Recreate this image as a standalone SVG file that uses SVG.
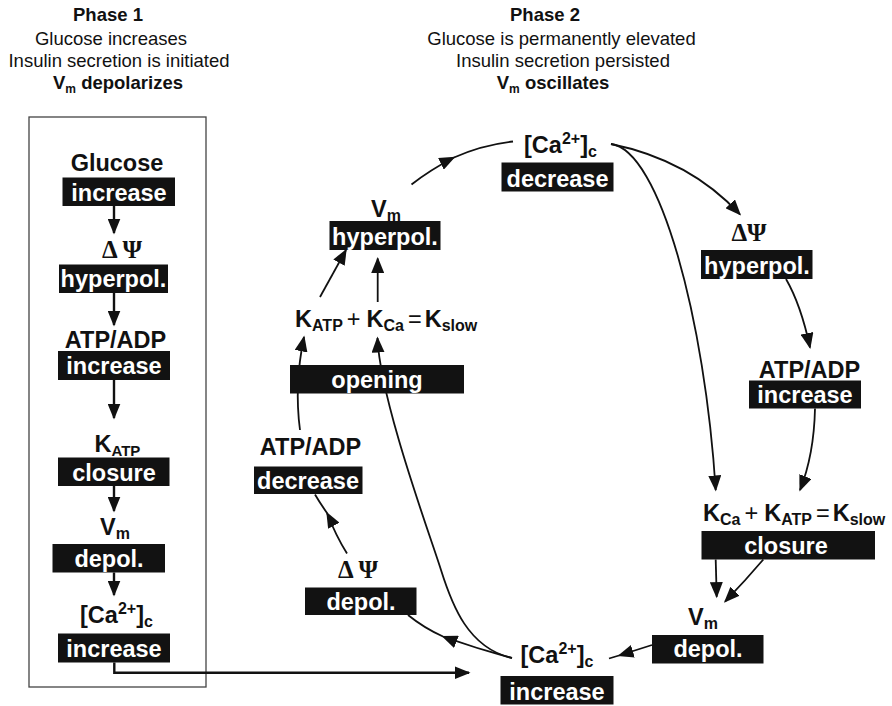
<svg xmlns="http://www.w3.org/2000/svg" width="892" height="706" viewBox="0 0 892 706">
  <style>
    text { font-family: "Liberation Sans", Arial, Helvetica, sans-serif; fill: #111; }
    .hb { font-size: 18.5px; font-weight: bold; text-anchor: middle; }
    .hr { font-size: 18.5px; text-anchor: middle; }
    .n { font-size: 23.5px; font-weight: bold; text-anchor: middle; }
    .ns { font-size: 23.5px; font-weight: bold; }
    .lbl { font-size: 23.5px; font-weight: bold; text-anchor: middle; fill: #fff; }
    .sym { font-family: "Liberation Serif", "Times New Roman", serif; font-size: 25px; font-weight: bold; text-anchor: middle; }
    .op { font-weight: normal; }
    .box { fill: #121212; }
    .frame { fill: none; stroke: #444; stroke-width: 1.3; }
    .ln { fill: none; stroke: #111; stroke-width: 1.8; }
    .lnk { fill: none; stroke: #111; stroke-width: 2.4; }
    .arr { marker-end: url(#ah); }
  </style>
  <defs>
    <marker id="ah" markerUnits="userSpaceOnUse" markerWidth="17" markerHeight="13" refX="14.5" refY="6.5" orient="auto">
      <path d="M0,0 L16,6.5 L0,13 z" fill="#111"/>
    </marker>
  </defs>

  <!-- headings -->
  <g id="heading-phase1">
    <text class="hb" x="108" y="21">Phase 1</text>
    <text class="hr" x="111" y="45">Glucose increases</text>
    <text class="hr" x="119" y="67">Insulin secretion is initiated</text>
    <text class="hb" x="118" y="89">V<tspan font-size="12" dy="4">m</tspan><tspan dy="-4"> depolarizes</tspan></text>
  </g>
  <g id="heading-phase2">
    <text class="hb" x="545" y="21">Phase 2</text>
    <text class="hr" x="561.5" y="45">Glucose is permanently elevated</text>
    <text class="hr" x="563" y="67">Insulin secretion persisted</text>
    <text class="hb" x="553" y="89">V<tspan font-size="12" dy="4">m</tspan><tspan dy="-4"> oscillates</tspan></text>
  </g>

  <!-- phase 1 frame -->
  <rect class="frame" x="29" y="117" width="177" height="570"/>

  <!-- connectors (drawn first so the black labels sit on top) -->
  <g id="connectors">
    <!-- phase 1 chain -->
    <path class="lnk arr" d="M114,206 L114,233"/>
    <path class="lnk arr" d="M114,293 L114,325"/>
    <path class="lnk arr" d="M114,380 L114,418"/>
    <path class="lnk arr" d="M114,486 L114,511"/>
    <path class="lnk arr" d="M114,572.5 L114,595"/>
    <path class="lnk arr" d="M114.3,662.5 L114.3,672.7 L469,672.7"/>

    <!-- phase 2 cycle -->
    <path class="ln" d="M411.5,184.5 Q430,170 454,157.5 Q482,145 513,141.5" marker-mid="url(#ah)"/>
    <path class="ln arr" d="M611,144 Q690,160 740,214.5"/>
    <path class="ln arr" d="M611,144 C660,150 705,320 715.7,490"/>
    <path class="ln arr" d="M786,279 Q801,305 810,347.5"/>
    <path class="ln arr" d="M815,408.5 Q814,455 800,490"/>
    <path class="ln arr" d="M715.7,559.5 L716.7,596.7"/>
    <path class="ln arr" d="M763.3,559.5 Q745,581 725,601.7"/>
    <path class="ln" d="M652,645 L619,655.5 L609,658.5" marker-mid="url(#ah)"/>
    <path class="ln" d="M512,658 Q478,649 443,636.5 Q424,628 408,615" marker-mid="url(#ah)"/>
    <path class="ln arr" d="M512,658 C468,648 452,605 441,570 C430,535 380,400 377.5,338"/>
    <path class="ln" d="M347,553.5 Q336,536 327,513 Q320,503 315,494.5" marker-mid="url(#ah)"/>
    <path class="ln arr" d="M300,430 Q294,385 304,337"/>
    <path class="ln arr" d="M320,297 L346,250"/>
    <path class="ln arr" d="M377.7,302 L377.7,258.5"/>
  </g>

  <!-- phase 1 chain -->
  <g id="p1-glucose">
    <text class="n" x="117" y="171">Glucose</text>
    <rect class="box" x="62.5" y="177.5" width="112.5" height="28.5"/>
    <text class="lbl" x="119" y="201">increase</text>
  </g>
  <g id="p1-dpsi">
    <text class="sym" x="122" y="258">Δ Ψ</text>
    <rect class="box" x="59" y="264.5" width="109" height="28.5"/>
    <text class="lbl" x="113.5" y="287">hyperpol.</text>
  </g>
  <g id="p1-atpadp">
    <text class="n" x="115.5" y="348">ATP/ADP</text>
    <rect class="box" x="58" y="351" width="112" height="29"/>
    <text class="lbl" x="114" y="374">increase</text>
  </g>
  <g id="p1-katp">
    <text class="ns" x="94.5" y="452">K<tspan font-size="15" dy="3.5">ATP</tspan></text>
    <rect class="box" x="58" y="457.5" width="111.5" height="28.5"/>
    <text class="lbl" x="114" y="481">closure</text>
  </g>
  <g id="p1-vm">
    <text class="ns" x="100" y="535">V<tspan font-size="16" dy="4">m</tspan></text>
    <rect class="box" x="52.5" y="544" width="112.5" height="28.5"/>
    <text class="lbl" x="109" y="567">depol.</text>
  </g>
  <g id="p1-ca">
    <text class="ns" x="80" y="623">[Ca<tspan font-size="16" dy="-9">2+</tspan><tspan dy="9">]</tspan><tspan font-size="16" dy="4">c</tspan></text>
    <rect class="box" x="58" y="633.5" width="112" height="29"/>
    <text class="lbl" x="114" y="657">increase</text>
  </g>

  <!-- phase 2 cycle -->
  <g id="p2-ca-decrease">
    <text class="ns" x="524" y="153">[Ca<tspan font-size="16" dy="-9">2+</tspan><tspan dy="9">]</tspan><tspan font-size="16" dy="4">c</tspan></text>
    <rect class="box" x="501.5" y="162.5" width="112" height="29"/>
    <text class="lbl" x="557.5" y="186.5">decrease</text>
  </g>
  <g id="p2-dpsi-hyperpol">
    <text class="sym" x="749" y="240.5">ΔΨ</text>
    <rect class="box" x="701" y="250" width="111.5" height="29"/>
    <text class="lbl" x="757" y="273.5">hyperpol.</text>
  </g>
  <g id="p2-atpadp-increase">
    <text class="n" x="809.5" y="377.5">ATP/ADP</text>
    <rect class="box" x="749" y="380.5" width="112" height="28"/>
    <text class="lbl" x="805" y="403">increase</text>
  </g>
  <g id="p2-kslow-closure">
    <text class="ns" x="703" y="520.5">K<tspan font-size="16" dy="4">Ca</tspan><tspan class="op" dx="4" dy="-4">+</tspan><tspan dx="6">K</tspan><tspan font-size="16" dy="4">ATP</tspan><tspan class="op" dx="4" dy="-4">=</tspan><tspan dx="3">K</tspan><tspan font-size="16" dy="4">slow</tspan></text>
    <rect class="box" x="701.5" y="531" width="173.5" height="28.5"/>
    <text class="lbl" x="786" y="554">closure</text>
  </g>
  <g id="p2-vm-depol">
    <text class="ns" x="688" y="625">V<tspan font-size="16" dy="4">m</tspan></text>
    <rect class="box" x="652" y="635" width="111.5" height="28.5"/>
    <text class="lbl" x="708" y="657">depol.</text>
  </g>
  <g id="p2-ca-increase">
    <text class="ns" x="520.5" y="663">[Ca<tspan font-size="16" dy="-9">2+</tspan><tspan dy="9">]</tspan><tspan font-size="16" dy="4">c</tspan></text>
    <rect class="box" x="500.5" y="676" width="113" height="28.5"/>
    <text class="lbl" x="557" y="699.5">increase</text>
  </g>
  <g id="p2-dpsi-depol">
    <text class="sym" x="358" y="578">Δ Ψ</text>
    <rect class="box" x="305" y="587.5" width="111.5" height="27.5"/>
    <text class="lbl" x="361" y="610">depol.</text>
  </g>
  <g id="p2-atpadp-decrease">
    <text class="n" x="310.5" y="455">ATP/ADP</text>
    <rect class="box" x="254" y="466.5" width="108.5" height="27.5"/>
    <text class="lbl" x="308" y="489">decrease</text>
  </g>
  <g id="p2-kslow-opening">
    <text class="ns" x="295" y="327">K<tspan font-size="16" dy="4">ATP</tspan><tspan class="op" dx="4" dy="-4">+</tspan><tspan dx="6">K</tspan><tspan font-size="16" dy="4">Ca</tspan><tspan class="op" dx="4" dy="-4">=</tspan><tspan dx="3">K</tspan><tspan font-size="16" dy="4">slow</tspan></text>
    <rect class="box" x="290" y="365" width="174" height="28.5"/>
    <text class="lbl" x="377" y="388">opening</text>
  </g>
  <g id="p2-vm-hyperpol">
    <text class="ns" x="371" y="217">V<tspan font-size="16" dy="4">m</tspan></text>
    <rect class="box" x="329.5" y="221" width="111" height="29"/>
    <text class="lbl" x="385" y="245">hyperpol.</text>
  </g>
</svg>
